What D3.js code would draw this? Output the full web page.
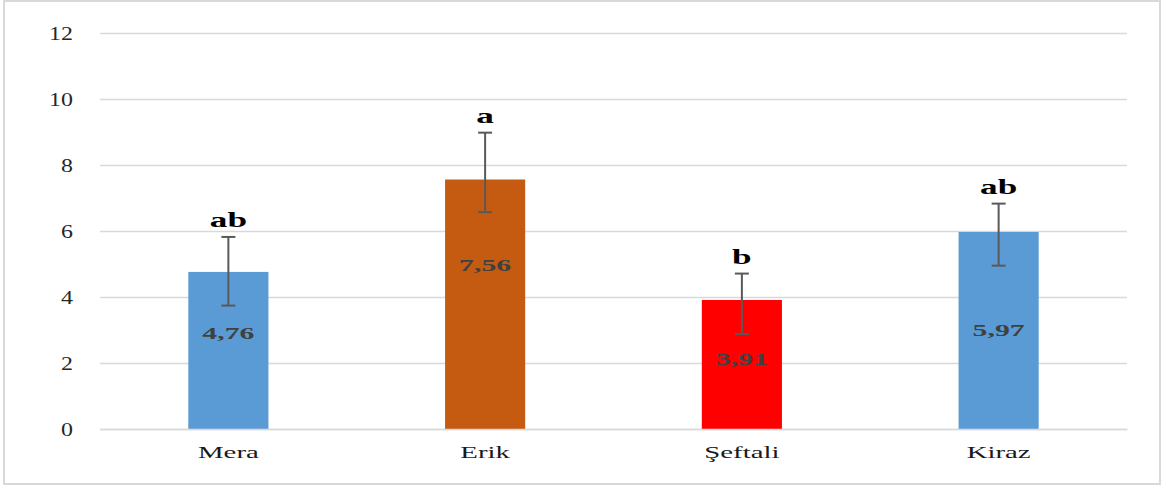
<!DOCTYPE html>
<html>
<head>
<meta charset="utf-8">
<script src="https://cdn.jsdelivr.net/npm/d3@7"></script>
<style>
  body { margin: 0; background: #fff; }
  svg { display: block; }
</style>
</head>
<body>
<svg id="chart" width="1167" height="486"></svg>
<script>
// Daten
const categories = ["Mera", "Erik", "Şeftali", "Kiraz"];
const means = [4.76, 7.56, 3.91, 5.97];
const errUp = [1.06, 1.42, 0.80, 0.86];
const errDown = [1.02, 0.99, 1.03, 1.02];
const letters = ["ab", "a", "b", "ab"];
const colors = ["#5b9bd5", "#c55a11", "#ff0000", "#5b9bd5"];
const yTicks = [0, 2, 4, 6, 8, 10, 12];

const width = 1167, height = 486;
const margin = { left: 100, top: 33, right: 40, bottom: 57 };
const serif = "'Liberation Serif', 'Times New Roman', serif";

const svg = d3.select("#chart");

// Rahmen
svg.append("rect")
    .attr("x", 4).attr("y", 1)
    .attr("width", 1156).attr("height", 483)
    .attr("fill", "none")
    .attr("stroke", "#d9d9d9")
    .attr("stroke-width", 2);

const g = svg.append("g")
    .attr("transform", `translate(${margin.left}, ${margin.top})`);

const innerW = width - margin.left - margin.right;
const innerH = height - margin.top - margin.bottom;

// Skalen
const xScale = d3.scaleBand()
    .domain(categories)
    .range([0, innerW])
    .paddingInner(0.688)
    .paddingOuter(0.344);

const yScale = d3.scaleLinear()
    .domain([0, 12])
    .range([innerH, 0]);

// Text im Original ist horizontal gestreckt
const stretched = (x, y, sx) => `translate(${x}, ${y}) scale(${sx}, 1)`;

// Gitterlinien
g.append("g")
    .call(d3.axisLeft(yScale).tickValues(yTicks).tickSize(-innerW).tickFormat(""))
    .call(a => a.select(".domain").remove())
    .call(a => a.selectAll("line").attr("stroke", "#d9d9d9").attr("stroke-width", 1.5));

// Y Achse Beschriftung
g.append("g")
    .call(d3.axisLeft(yScale).tickValues(yTicks).tickSize(0))
    .call(a => a.select(".domain").remove())
    .call(a => a.selectAll("text")
        .attr("x", 0)
        .attr("dy", "0.35em")
        .attr("transform", stretched(-27, 0, 1.33))
        .style("font-family", serif)
        .style("font-size", "18px")
        .attr("fill", "#262626"));

// Balken
g.selectAll(".bar")
    .data(categories)
    .join("rect")
    .attr("class", "bar")
    .attr("x", d => xScale(d))
    .attr("y", (d, i) => yScale(means[i]))
    .attr("width", xScale.bandwidth())
    .attr("height", (d, i) => innerH - yScale(means[i]))
    .attr("fill", (d, i) => colors[i]);

// Fehlerbalken
const cx = d => xScale(d) + xScale.bandwidth() / 2;
const eb = g.selectAll(".err")
    .data(categories)
    .join("g")
    .attr("class", "err")
    .attr("stroke", "#595959")
    .attr("stroke-width", 2);

eb.append("line")
    .attr("x1", cx).attr("x2", cx)
    .attr("y1", (d, i) => yScale(means[i] + errUp[i]))
    .attr("y2", (d, i) => yScale(means[i] - errDown[i]));
eb.append("line")
    .attr("x1", d => cx(d) - 7).attr("x2", d => cx(d) + 7)
    .attr("y1", (d, i) => yScale(means[i] + errUp[i]))
    .attr("y2", (d, i) => yScale(means[i] + errUp[i]));
eb.append("line")
    .attr("x1", d => cx(d) - 7).attr("x2", d => cx(d) + 7)
    .attr("y1", (d, i) => yScale(means[i] - errDown[i]))
    .attr("y2", (d, i) => yScale(means[i] - errDown[i]));

// Buchstaben über den Fehlerbalken
g.selectAll(".letter")
    .data(categories)
    .join("text")
    .attr("class", "letter")
    .attr("transform", (d, i) => stretched(cx(d), yScale(means[i] + errUp[i]) - 10, 1.6))
    .attr("text-anchor", "middle")
    .style("font-family", serif)
    .style("font-weight", "bold")
    .style("font-size", "22px")
    .attr("fill", "#000")
    .text((d, i) => letters[i]);

// Werte in den Balken (Höhe wie im Original von Hand gesetzt)
const labelAt = [2.73, 4.79, 1.94, 2.83];
g.selectAll(".value")
    .data(categories)
    .join("text")
    .attr("class", "value")
    .attr("transform", (d, i) => stretched(cx(d), yScale(labelAt[i]), 1.75))
    .attr("text-anchor", "middle")
    .style("font-family", serif)
    .style("font-weight", "bold")
    .style("font-size", "17px")
    .attr("fill", "#404040")
    .text((d, i) => means[i].toFixed(2).replace(".", ","));

// X Achse
g.append("g")
    .attr("transform", `translate(0, ${innerH})`)
    .call(d3.axisBottom(xScale).tickSize(0))
    .call(a => a.select(".domain").attr("stroke", "#d9d9d9").attr("stroke-width", 1.5))
    .call(a => a.selectAll("text")
        .attr("y", 0)
        .attr("dy", null)
        .attr("transform", stretched(0, 29, 1.8))
        .style("font-family", serif)
        .style("font-size", "16px")
        .attr("fill", "#1a1a1a"));
</script>
</body>
</html>
